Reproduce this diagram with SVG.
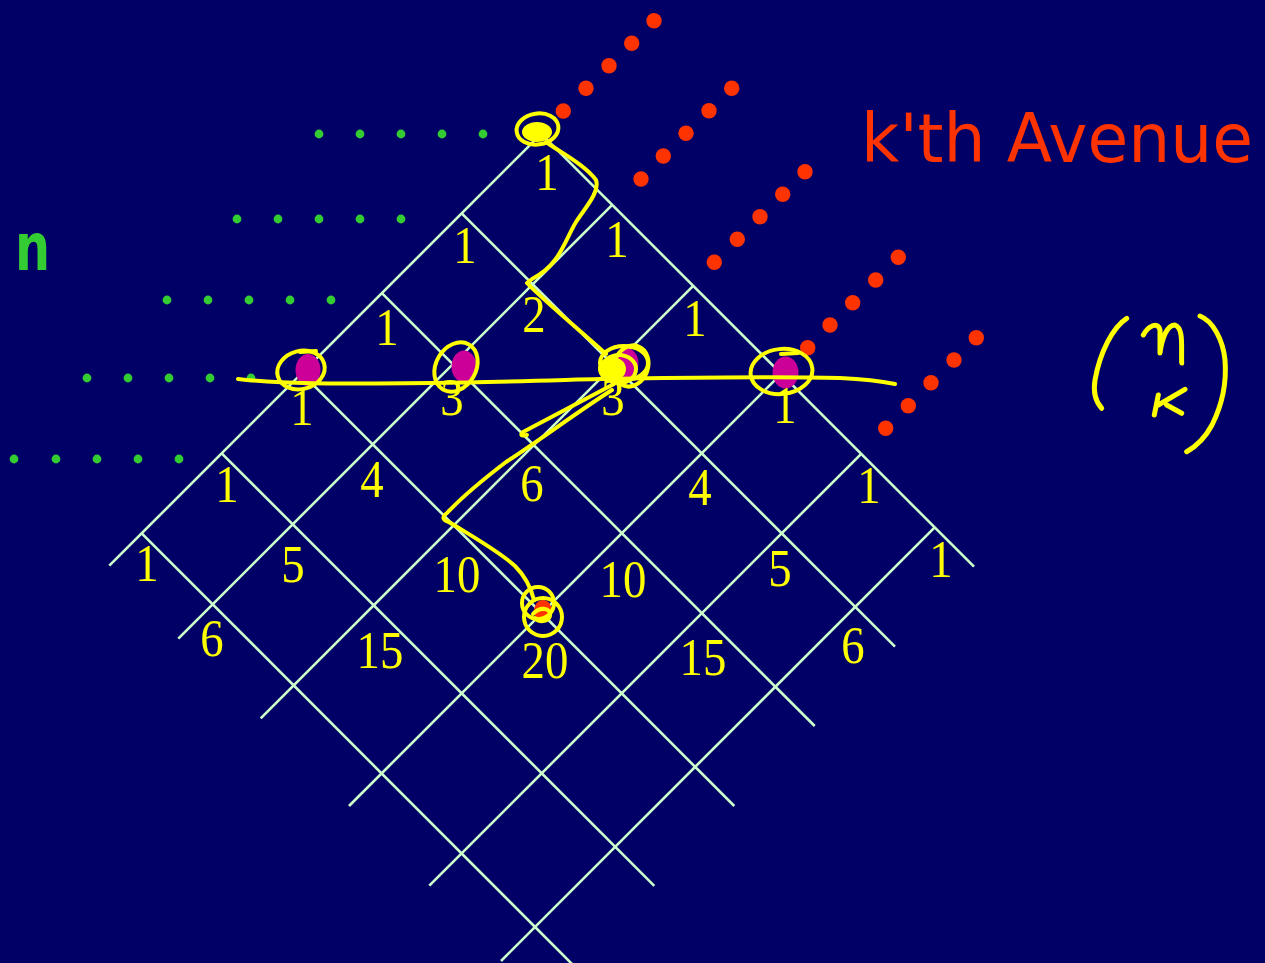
<svg xmlns="http://www.w3.org/2000/svg" width="1265" height="963" viewBox="0 0 1265 963">
<style>
.grid line{stroke:#CCFFCC;stroke-width:2.6;stroke-linecap:butt}
.num{font-family:"Liberation Serif","Times New Roman",serif;font-size:52px;fill:#FFFF00;text-anchor:middle}
.gd{fill:#33CC33}
.rd{fill:#FF3300}
.mg{fill:#CC0099}
.ink{fill:none;stroke:#FFFF00;stroke-width:4;stroke-linecap:round;stroke-linejoin:round}
.ink5{fill:none;stroke:#FFFF00;stroke-width:5;stroke-linecap:round;stroke-linejoin:round}
</style>
<rect width="1265" height="963" fill="#000066"/>

<g id="grid" class="grid">
<line x1="541.2" y1="133.8" x2="974" y2="566.7"/>
<line x1="461.7" y1="213.3" x2="895" y2="646.6"/>
<line x1="381.9" y1="293.2" x2="814.7" y2="726"/>
<line x1="301.7" y1="373.3" x2="734.3" y2="806"/>
<line x1="221.7" y1="453.3" x2="654.3" y2="885.9"/>
<line x1="141.7" y1="533.3" x2="572" y2="964"/>
<line x1="541.2" y1="133.8" x2="109.3" y2="565.7"/>
<line x1="612.2" y1="204.8" x2="178.3" y2="638.7"/>
<line x1="693.2" y1="285.8" x2="260.7" y2="718.3"/>
<line x1="781.2" y1="373.8" x2="349" y2="806"/>
<line x1="861.2" y1="453.8" x2="429.3" y2="885.7"/>
<line x1="934.7" y1="527.4" x2="501" y2="961"/>
</g>

<g id="green-dots" class="gd">
<circle cx="319" cy="134" r="4.4"/><circle cx="360" cy="134" r="4.4"/><circle cx="401" cy="134" r="4.4"/><circle cx="442" cy="134" r="4.4"/><circle cx="483" cy="134" r="4.4"/>
<circle cx="237" cy="219" r="4.4"/><circle cx="278" cy="219" r="4.4"/><circle cx="319" cy="219" r="4.4"/><circle cx="360" cy="219" r="4.4"/><circle cx="401" cy="219" r="4.4"/>
<circle cx="167" cy="300" r="4.4"/><circle cx="208" cy="300" r="4.4"/><circle cx="249" cy="300" r="4.4"/><circle cx="290" cy="300" r="4.4"/><circle cx="331" cy="300" r="4.4"/>
<circle cx="87" cy="378" r="4.4"/><circle cx="128" cy="378" r="4.4"/><circle cx="169" cy="378" r="4.4"/><circle cx="210" cy="378" r="4.4"/><circle cx="251" cy="378" r="4.4"/>
<circle cx="14" cy="459" r="4.4"/><circle cx="56" cy="459" r="4.4"/><circle cx="97" cy="459" r="4.4"/><circle cx="138" cy="459" r="4.4"/><circle cx="179" cy="459" r="4.4"/>
</g>

<g id="red-dots" class="rd">
<circle cx="563.3" cy="111" r="7.7"/><circle cx="586" cy="88.3" r="7.7"/><circle cx="609" cy="65.7" r="7.7"/><circle cx="631.7" cy="43.3" r="7.7"/><circle cx="654" cy="20.7" r="7.7"/>
<circle cx="641" cy="179" r="7.7"/><circle cx="663.3" cy="156" r="7.7"/><circle cx="686" cy="133.3" r="7.7"/><circle cx="709" cy="110.7" r="7.7"/><circle cx="731.7" cy="88.3" r="7.7"/>
<circle cx="714.3" cy="262.3" r="7.7"/><circle cx="737.3" cy="239.3" r="7.7"/><circle cx="760" cy="216.7" r="7.7"/><circle cx="782.7" cy="194.3" r="7.7"/><circle cx="805" cy="171.7" r="7.7"/>
<circle cx="807.7" cy="347.7" r="7.7"/><circle cx="830" cy="325" r="7.7"/><circle cx="852.7" cy="302.7" r="7.7"/><circle cx="875.7" cy="280" r="7.7"/><circle cx="898.3" cy="257.3" r="7.7"/>
<circle cx="885.7" cy="428.3" r="7.7"/><circle cx="908.3" cy="405.7" r="7.7"/><circle cx="931" cy="382.7" r="7.7"/><circle cx="954" cy="360" r="7.7"/><circle cx="976.3" cy="337.7" r="7.7"/>
</g>

<g id="magenta-dots" class="mg">
<ellipse cx="308" cy="370" rx="12.5" ry="16"/>
<ellipse cx="464" cy="366.5" rx="12.5" ry="16"/>
<ellipse cx="626" cy="363" rx="12.5" ry="15"/>
<ellipse cx="785.5" cy="372.5" rx="13" ry="16"/>
</g>

<g id="numbers" class="num">
<text transform="translate(547 190) scale(0.9 1)">1</text>
<text transform="translate(465 263) scale(0.9 1)">1</text>
<text transform="translate(617 257) scale(0.9 1)">1</text>
<text transform="translate(387 345) scale(0.9 1)">1</text>
<text transform="translate(534 332) scale(0.9 1)">2</text>
<text transform="translate(695 336) scale(0.9 1)">1</text>
<text transform="translate(302 425) scale(0.9 1)">1</text>
<text transform="translate(452 415) scale(0.9 1)">3</text>
<text transform="translate(613 415) scale(0.9 1)">3</text>
<text transform="translate(785 423) scale(0.9 1)">1</text>
<text transform="translate(227 502) scale(0.9 1)">1</text>
<text transform="translate(372 497) scale(0.9 1)">4</text>
<text transform="translate(532 501) scale(0.9 1)">6</text>
<text transform="translate(700 505) scale(0.9 1)">4</text>
<text transform="translate(869 503) scale(0.9 1)">1</text>
<text transform="translate(147 581) scale(0.9 1)">1</text>
<text transform="translate(293 582) scale(0.9 1)">5</text>
<text transform="translate(457 592) scale(0.9 1)">10</text>
<text transform="translate(623 597) scale(0.9 1)">10</text>
<text transform="translate(780 586) scale(0.9 1)">5</text>
<text transform="translate(941 577) scale(0.9 1)">1</text>
<text transform="translate(212 656) scale(0.9 1)">6</text>
<text transform="translate(380 668) scale(0.9 1)">15</text>
<text transform="translate(545 678) scale(0.9 1)">20</text>
<text transform="translate(703 675) scale(0.9 1)">15</text>
<text transform="translate(853 663) scale(0.9 1)">6</text>
</g>

<g id="label-n">
<text transform="translate(15 270) scale(0.85 1.12)" font-family="DejaVu Sans, sans-serif" font-weight="bold" font-size="58" fill="#33CC33">n</text>
</g>

<g id="label-avenue">
<text x="861" y="162" font-family="DejaVu Sans, sans-serif" font-size="68" fill="#FF3300" textLength="392" lengthAdjust="spacingAndGlyphs">k'th Avenue</text>
</g>

<g id="annotations">
<ellipse cx="537.5" cy="129" rx="21" ry="15.5" class="ink" transform="rotate(-8 537.5 129)"/>
<ellipse cx="537" cy="132" rx="15" ry="10" fill="#FFFF00"/>
<path class="ink" d="M546,142 C560,152 585,165 596,180 C600,192 585,208 576,222 C565,240 560,265 532,279 L527,283 C540,297 570,322 606,354"/>
<path class="ink" d="M238,379 C280,384 330,384 430,383 C500,382 560,380 600,379 C680,378 760,376 840,378 C860,379 880,381 895,384"/>
<ellipse cx="301" cy="370" rx="24" ry="19" class="ink" transform="rotate(-15 301 370)"/>
<path class="ink" d="M300,352 L316,351"/>
<ellipse cx="456" cy="367" rx="20" ry="26" class="ink" transform="rotate(30 456 367)"/>
<ellipse cx="781.5" cy="371.5" rx="31" ry="22.5" class="ink" transform="rotate(-6 781.5 371.5)"/>
<path class="ink" d="M781,354 L798,353"/>
<ellipse cx="612" cy="369" rx="14" ry="12" fill="#FFFF00"/>
<ellipse cx="624" cy="363" rx="24" ry="17" class="ink"/>
<ellipse cx="619" cy="369" rx="17" ry="14" class="ink"/>
<ellipse cx="631" cy="366" rx="17" ry="21" class="ink" transform="rotate(20 631 366)"/>
<path class="ink" d="M614,384 L523,432 Q518,437 527,435"/>
<path class="ink" d="M612,390 C580,410 540,440 506,462 C485,478 462,497 447,513 Q439,519 449,522 C470,535 500,552 515,566 C526,577 531,588 534,600"/>
<ellipse cx="543" cy="611" rx="9" ry="11" fill="#FF3300"/>
<circle cx="538" cy="603" r="16" class="ink"/>
<circle cx="543" cy="617" r="19" class="ink"/>
<path class="ink" d="M533,614 C540,606 552,608 550,616 C548,623 538,622 535,618"/>
</g>

<g id="binomial">
<path class="ink5" d="M1126.7,318.3 C1113,327 1100,352 1095,380 C1093,392 1096,402 1101.7,408.3"/>
<path class="ink5" d="M1143.3,335 C1148,326 1158,321 1160,330 L1160,353 C1162,338 1167,325 1175,325 C1184,328 1181,348 1181.7,363"/>
<path class="ink5" d="M1185,389.3 L1158.3,405 M1158.3,395 L1154.3,415 M1166.7,405 L1181.7,413.3"/>
<path class="ink5" d="M1200,316 C1213,321 1223,340 1225,360 C1227,385 1222,405 1212,425 C1204,440 1195,447 1186.7,451.7"/>
</g>
</svg>
